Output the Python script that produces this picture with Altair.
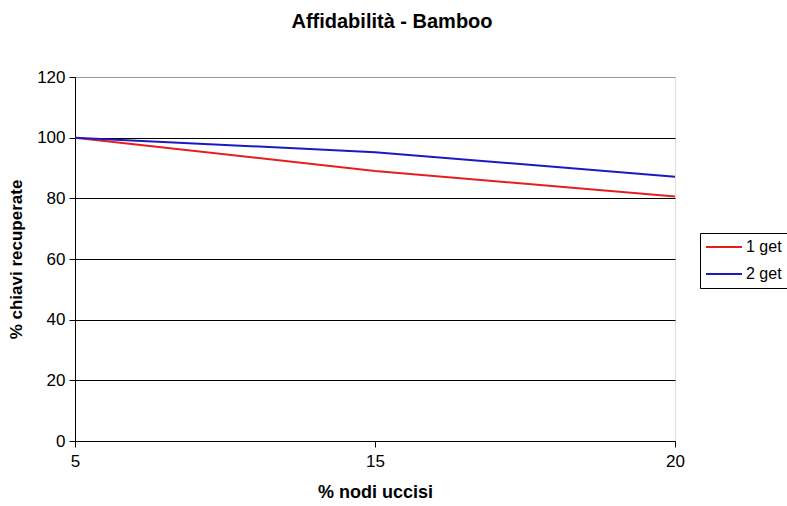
import altair as alt
import pandas as pd

# Percentage of nodes killed (category axis)
nodi_uccisi = ["5", "15", "20"]
# Percentage of keys recovered for each strategy
serie_1_get = [100, 89.0, 80.6]
serie_2_get = [100, 95.2, 87.1]
serie_nomi = ["1 get", "2 get"]

rows = []
for nome, valori in zip(serie_nomi, [serie_1_get, serie_2_get]):
    for x, y in zip(nodi_uccisi, valori):
        rows.append({"nodi": x, "chiavi": y, "serie": nome})
df = pd.DataFrame(rows)

font = "Liberation Sans"

chart = (
    alt.Chart(df)
    .mark_line(strokeWidth=2)
    .encode(
        x=alt.X(
            "nodi:O",
            sort=nodi_uccisi,
            scale=alt.Scale(type="point", padding=0),
            axis=alt.Axis(
                title="% nodi uccisi",
                labelAngle=0,
                labelFontSize=17,
                labelColor="black",
                labelFont=font,
                labelPadding=6,
                titleFont=font,
                titleFontSize=18,
                titleFontWeight="bold",
                titleColor="black",
                titlePadding=14,
                domainColor="black",
                tickColor="black",
                tickSize=6,
                grid=False,
            ),
        ),
        y=alt.Y(
            "chiavi:Q",
            scale=alt.Scale(domain=[0, 120], nice=False),
            axis=alt.Axis(
                title="% chiavi recuperate",
                values=[0, 20, 40, 60, 80, 100, 120],
                labelFontSize=17,
                labelColor="black",
                labelFont=font,
                labelPadding=4,
                titleFont=font,
                titleFontSize=17,
                titleFontWeight="bold",
                titleColor="black",
                titlePadding=11,
                domainColor="black",
                tickColor="black",
                tickSize=6,
                grid=True,
                gridColor=alt.condition(
                    "datum.value == 120", alt.value("#999999"), alt.value("black")
                ),
                gridOpacity=1,
            ),
        ),
        color=alt.Color(
            "serie:N",
            scale=alt.Scale(domain=serie_nomi, range=["#e81e1e", "#1a1ac4"]),
            legend=alt.Legend(
                title=None,
                orient="none",
                legendX=625,
                legendY=156,
                symbolType="stroke",
                symbolStrokeWidth=2,
                symbolSize=1296,
                clipHeight=18,
                labelFontSize=16,
                labelFont=font,
                labelColor="black",
                labelOffset=3,
                strokeColor="black",
                padding=5,
                rowPadding=9,
                fillColor="white",
            ),
        ),
    )
    .properties(
        width=600,
        height=364,
        title=alt.TitleParams(
            "Affidabilità - Bamboo",
            font=font,
            fontSize=20,
            fontWeight="bold",
            color="black",
            anchor="middle",
            frame="group",
            dx=17,
            offset=36,
        ),
        autosize=alt.AutoSizeParams(type="none"),
        padding={"left": 75, "top": 77, "right": 112, "bottom": 65},
    )
    .configure_view(stroke="#999999", strokeWidth=1)
    .configure(background="white")
)

chart.save("out.html", embed_options={"renderer": "svg", "actions": False})
